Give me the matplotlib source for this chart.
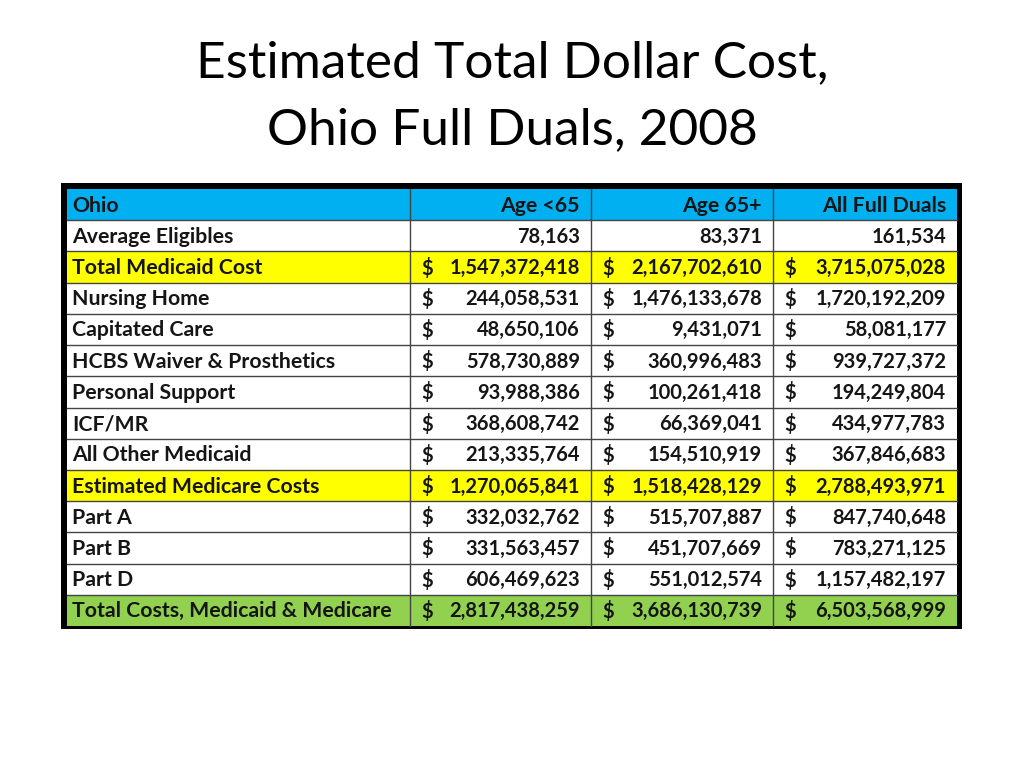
import matplotlib
matplotlib.use("Agg")
import matplotlib.pyplot as plt
from matplotlib.patches import Rectangle

# table content
header = ["Ohio", "Age <65", "Age 65+", "All Full Duals"]
row_labels = ["Average Eligibles", "Total Medicaid Cost", "Nursing Home", "Capitated Care",
              "HCBS Waiver & Prosthetics", "Personal Support", "ICF/MR", "All Other Medicaid",
              "Estimated Medicare Costs", "Part A", "Part B", "Part D",
              "Total Costs, Medicaid & Medicare"]
age_under65 = [78163, 1547372418, 244058531, 48650106, 578730889, 93988386, 368608742,
               213335764, 1270065841, 332032762, 331563457, 606469623, 2817438259]
age_65plus = [83371, 2167702610, 1476133678, 9431071, 360996483, 100261418, 66369041,
              154510919, 1518428129, 515707887, 451707669, 551012574, 3686130739]
all_duals = [161534, 3715075028, 1720192209, 58081177, 939727372, 194249804, 434977783,
             367846683, 2788493971, 847740648, 783271125, 1157482197, 6503568999]
row_kind = ["count", "yellow", "", "", "", "", "", "", "yellow", "", "", "", "green"]

fills = {"yellow": "#FFFF00", "green": "#92D050", "": "white", "count": "white"}
header_fill = "#00B0F0"
txt = "#151515"
font = "Lato"

fig = plt.figure(figsize=(10.24, 7.68), dpi=100)
ax = fig.add_axes([0, 0, 1, 1])
ax.set_xlim(0, 1024)
ax.set_ylim(768, 0)
ax.axis("off")

# title
ax.text(512, 63, "Estimated Total Dollar Cost,", ha="center", va="center",
        fontsize=37, family=font, color="black")
ax.text(512, 130, "Ohio Full Duals, 2008", ha="center", va="center",
        fontsize=37, family=font, color="black")

col_edges = [67, 410, 591, 773, 957]
top, bottom = 189, 626
nrows = len(row_labels) + 1
rh = (bottom - top) / nrows
fs = 15.3      # labels
fs_num = 14.5  # numbers

def row_y(i):
    return top + i * rh

# outer black frame
ax.add_patch(Rectangle((61, 183), 901, 446, facecolor="black", edgecolor="none", zorder=0))

# header row
ax.add_patch(Rectangle((col_edges[0], top), col_edges[-1] - col_edges[0], rh,
                       facecolor=header_fill, edgecolor="none", zorder=1))
ax.text(col_edges[0] + 5, top + rh / 2 + 1, header[0], ha="left", va="center",
        fontsize=fs, fontweight="bold", family=font, color=txt, zorder=3)
for j in range(1, 4):
    ax.text(col_edges[j + 1] - 11, top + rh / 2 + 1, header[j], ha="right", va="center",
            fontsize=fs, fontweight="bold", family=font, color=txt, zorder=3)

series = [age_under65, age_65plus, all_duals]
for i, label in enumerate(row_labels):
    y0 = row_y(i + 1)
    kind = row_kind[i]
    ax.add_patch(Rectangle((col_edges[0], y0), col_edges[-1] - col_edges[0], rh,
                           facecolor=fills[kind], edgecolor="none", zorder=1))
    yc = y0 + rh / 2 + 1
    ax.text(col_edges[0] + 5, yc, label, ha="left", va="center",
            fontsize=fs, fontweight="bold", family=font, color=txt, zorder=3)
    for j, vals in enumerate(series):
        ax.text(col_edges[j + 2] - 11, yc, f"{vals[i]:,}", ha="right", va="center",
                fontsize=fs_num, fontweight="bold", family=font, color=txt, zorder=3)
        if kind != "count":
            ax.text(col_edges[j + 1] + 11, yc, "$", ha="left", va="center",
                    fontsize=fs_num, fontweight="bold", family=font, color=txt, zorder=3)

# grid lines
for i in range(1, nrows):
    ax.plot([col_edges[0], col_edges[-1]], [row_y(i), row_y(i)], color="#444444", lw=1.0, zorder=2)
for x in col_edges[1:-1]:
    ax.plot([x, x], [top, bottom], color="#444444", lw=1.0, zorder=2)

fig.savefig("out.png", dpi=100)
